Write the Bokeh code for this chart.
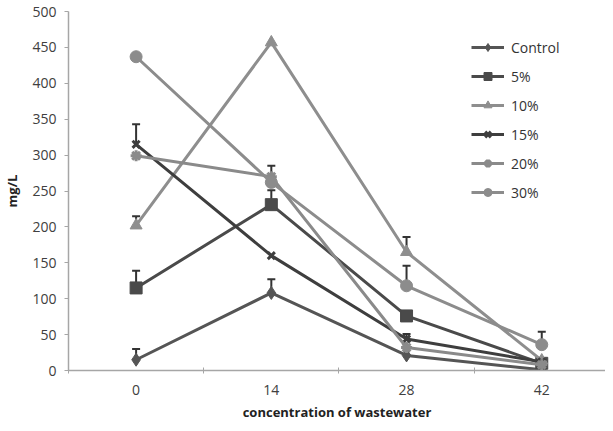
from bokeh.plotting import figure
from bokeh.models import (ColumnDataSource, FixedTicker, Legend, LegendItem,
                          Whisker, TeeHead, Range1d)
from bokeh.embed import file_html
from bokeh.resources import INLINE

# ---- data ----
days = [0, 14, 28, 42]
tick_labels = ["0", "14", "28", "42"]
series_names = ["Control", "5%", "10%", "15%", "20%", "30%"]
control = [15, 108, 21, 1]
pct5 = [115, 231, 76, 10]
pct10 = [202, 457, 165, 14]
pct15 = [315, 160, 44, 12]
pct20 = [299, 270, 32, 8]
pct30 = [437, 262, 118, 36]
err_control = [15, 19, 0, 0]
err_5 = [24, 20, 0, 0]
err_10 = [13, 0, 21, 0]
err_15 = [28, 0, 7, 0]
err_20 = [0, 0, 0, 0]
err_30 = [0, 23, 28, 18]
y_ticks = [0, 50, 100, 150, 200, 250, 300, 350, 400, 450, 500]

values = [control, pct5, pct10, pct15, pct20, pct30]
errors = [err_control, err_5, err_10, err_15, err_20, err_30]
colors = ["#555555", "#4a4a4a", "#8e8e8e", "#3e3e3e", "#8a8a8a", "#8c8c8c"]
markers = ["diamond", "square", "triangle", "x", "asterisk", "circle"]
msizes = [13, 12, 12, 10, 11, 12]

FONT = "Open Sans"

p = figure(width=605, height=423, output_backend="svg", toolbar_location=None,
           x_range=Range1d(-7, 48.6), y_range=Range1d(0, 500),
           min_border_left=66, min_border_right=0, min_border_top=11,
           min_border_bottom=49)
p.outline_line_color = None
p.xgrid.grid_line_color = None
p.ygrid.grid_line_color = None
p.background_fill_color = "white"
p.border_fill_color = "white"

# x axis
xa = p.xaxis[0]
xa.ticker = FixedTicker(ticks=days, minor_ticks=[-7, 7, 21, 35, 49])
xa.major_label_overrides = {d: t for d, t in zip(days, tick_labels)}
xa.major_tick_in = 0
xa.major_tick_out = 0
xa.minor_tick_in = 3
xa.minor_tick_out = 3
xa.minor_tick_line_color = "#a6a6a6"
xa.axis_line_color = "#a6a6a6"
xa.axis_line_width = 1.5
xa.major_label_text_font = FONT
xa.major_label_text_font_size = "14px"
xa.major_label_text_color = "#404040"
xa.major_label_standoff = 11
xa.axis_label = "concentration of wastewater"
xa.axis_label_text_font = FONT
xa.axis_label_text_font_size = "13px"
xa.axis_label_text_font_style = "bold"
xa.axis_label_text_color = "#222222"
xa.axis_label_standoff = 5

# y axis
ya = p.yaxis[0]
ya.ticker = FixedTicker(ticks=y_ticks)
ya.major_tick_in = 0
ya.major_tick_out = 4
ya.minor_tick_line_color = None
ya.axis_line_color = "#a6a6a6"
ya.major_tick_line_color = "#a6a6a6"
ya.axis_line_width = 1.5
ya.major_label_text_font = FONT
ya.major_label_text_font_size = "14px"
ya.major_label_text_color = "#404040"
ya.major_label_standoff = 8
ya.axis_label = "mg/L"
ya.axis_label_text_font = FONT
ya.axis_label_text_font_size = "13px"
ya.axis_label_text_font_style = "bold"
ya.axis_label_text_color = "#222222"
ya.axis_label_standoff = 8

items = []
for name, vals, errs, col, mk, ms in zip(series_names, values, errors, colors, markers, msizes):
    src = ColumnDataSource(dict(x=days, y=vals))
    # error bars (upward only)
    ex = [d for d, e in zip(days, errs) if e > 0]
    ey = [v for v, e in zip(vals, errs) if e > 0]
    eu = [v + e for v, e in zip(vals, errs) if e > 0]
    if ex:
        esrc = ColumnDataSource(dict(base=ex, lower=ey, upper=eu))
        w = Whisker(source=esrc, base="base", lower="lower", upper="upper",
                    line_color="#333333", line_width=2,
                    upper_head=TeeHead(size=8, line_color="#333333", line_width=2),
                    lower_head=None)
        p.add_layout(w)
    r_line = p.line("x", "y", source=src, line_color=col, line_width=3)
    lw = 3 if mk in ("x", "asterisk") else 1
    r_mk = p.scatter("x", "y", source=src, marker=mk, size=ms,
                     fill_color=col, line_color=col, line_width=lw)
    items.append(LegendItem(label=name, renderers=[r_line, r_mk]))

legend = Legend(items=items, location=(403, 168), orientation="vertical",
                glyph_width=33, glyph_height=20, label_height=20,
                spacing=9, padding=0, margin=0, label_standoff=7,
                border_line_color=None, background_fill_alpha=0,
                label_text_font=FONT, label_text_font_size="14px",
                label_text_color="#333333")
p.add_layout(legend, "center")

open("out.html", "w").write(file_html(p, INLINE))
